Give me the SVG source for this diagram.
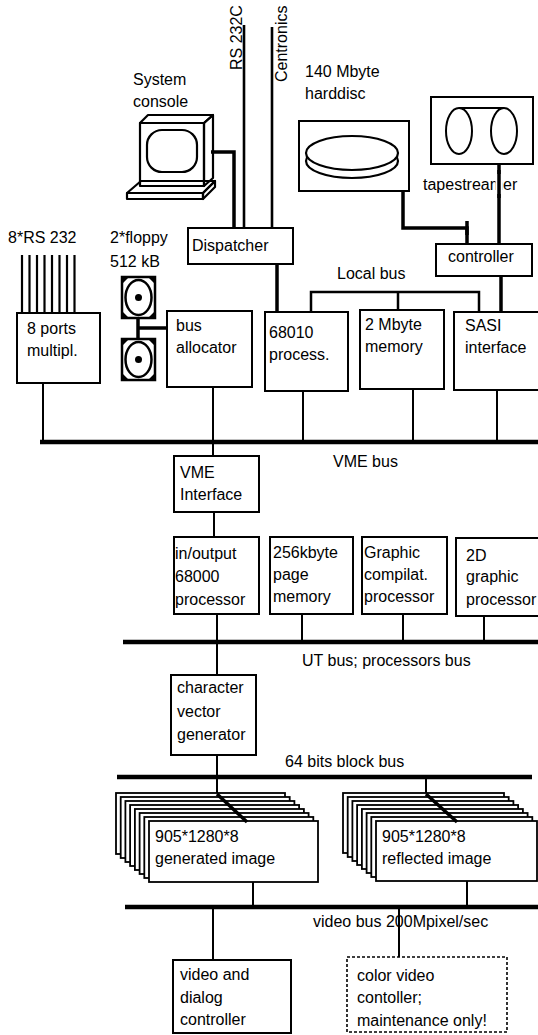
<svg xmlns="http://www.w3.org/2000/svg" width="538" height="1035" viewBox="0 0 538 1035">
  <style>
    text { font-family: "Liberation Sans", Arial, Helvetica, sans-serif; font-size: 16px; fill: #000; }
    .box { fill: #fff; stroke: #000; stroke-width: 2; }
    .dash { fill: #fff; stroke: #000; stroke-width: 1.6; stroke-dasharray: 3 2; }
    .bus { stroke: #000; stroke-width: 4.5; fill: none; }
    .wire { stroke: #000; stroke-width: 2; fill: none; }
    .cable { stroke: #000; stroke-width: 3.5; fill: none; }
    .ink { fill: none; stroke: #000; stroke-width: 2.2; stroke-linejoin: round; }
    .card { fill: #fff; stroke: #000; stroke-width: 1.8; }
  </style>
  <defs>
    <!-- floppy drive glyph: frame, black corners, disk and hub -->
    <g id="floppy">
      <rect x="0" y="0" width="33" height="41" fill="#fff" stroke="#000" stroke-width="2.5"/>
      <path d="M0 0h7L0 7z M33 0h-7L33 7z M0 41h7L0 34z M33 41h-7L33 34z" fill="#000"/>
      <ellipse cx="16.5" cy="20.5" rx="13" ry="17.5" fill="#fff" stroke="#000" stroke-width="2.5"/>
      <circle cx="16.5" cy="20.5" r="3.5" fill="#000"/>
    </g>
  </defs>

  <rect width="538" height="1035" fill="#fff"/>

  <!-- connectors: buses, wires and cables -->
  <g id="connectors">
    <!-- external lines into the dispatcher -->
    <line class="wire" x1="244" y1="25" x2="244" y2="228" style="stroke-width:2.6"/>
    <line class="wire" x1="272" y1="27" x2="272" y2="228" style="stroke-width:2.6"/>
    <polyline class="cable" points="211,152 234,152 234,228"/>
    <!-- harddisc and tape to controller -->
    <polyline class="cable" points="403,187 403,228 467,228 467,244"/>
    <line class="cable" x1="467" y1="221" x2="467" y2="235"/>
    <line class="cable" x1="499" y1="164" x2="499" y2="244"/>
    <line class="cable" x1="501" y1="276" x2="501" y2="312"/>
    <!-- dispatcher to CPU -->
    <line class="cable" x1="277" y1="264" x2="277" y2="312"/>
    <!-- local bus -->
    <polyline class="wire" points="311,312 311,292 479,292 479,312" style="stroke-width:2.5"/>
    <line class="wire" x1="398" y1="292" x2="398" y2="310" style="stroke-width:2.5"/>
    <!-- serial lines into the multiplexer -->
    <g class="wire" style="stroke-width:2.2">
      <line x1="22" y1="255" x2="22" y2="313"/>
      <line x1="29.5" y1="255" x2="29.5" y2="313"/>
      <line x1="37" y1="255" x2="37" y2="313"/>
      <line x1="44.5" y1="255" x2="44.5" y2="313"/>
      <line x1="52" y1="255" x2="52" y2="313"/>
      <line x1="59.5" y1="255" x2="59.5" y2="313"/>
      <line x1="67" y1="255" x2="67" y2="313"/>
      <line x1="74.5" y1="255" x2="74.5" y2="313"/>
    </g>
    <!-- floppies to bus allocator -->
    <line class="cable" x1="138" y1="318" x2="138" y2="339"/>
    <line class="cable" x1="138" y1="328" x2="167" y2="328"/>
    <!-- drops to the VME bus -->
    <line class="wire" x1="43" y1="383" x2="43" y2="442"/>
    <line class="wire" x1="213" y1="387" x2="213" y2="456"/>
    <line class="wire" x1="303" y1="391" x2="303" y2="442"/>
    <line class="wire" x1="413" y1="389" x2="413" y2="442"/>
    <line class="wire" x1="497" y1="390" x2="497" y2="442"/>
    <line class="bus" x1="40" y1="442" x2="538" y2="442"/>
    <!-- VME interface to I/O processor -->
    <line class="wire" x1="214" y1="512" x2="214" y2="537"/>
    <!-- drops to the UT bus -->
    <line class="wire" x1="217" y1="614" x2="217" y2="675"/>
    <line class="wire" x1="302" y1="614" x2="302" y2="642"/>
    <line class="wire" x1="403" y1="614" x2="403" y2="642"/>
    <line class="wire" x1="484" y1="616" x2="484" y2="642"/>
    <line class="bus" x1="123" y1="642" x2="538" y2="642"/>
    <!-- block bus -->
    <line class="wire" x1="217" y1="755" x2="217" y2="795"/>
    <line class="wire" x1="426" y1="777" x2="426" y2="795"/>
    <line class="bus" x1="117" y1="777" x2="532" y2="777"/>
    <!-- video bus -->
    <line class="wire" x1="253" y1="882" x2="253" y2="907"/>
    <line class="wire" x1="467" y1="881" x2="467" y2="907"/>
    <line class="bus" x1="125" y1="907" x2="538" y2="907"/>
    <line class="wire" x1="213" y1="907" x2="213" y2="960"/>
    <line class="wire" x1="399" y1="907" x2="399" y2="957"/>
  </g>

  <!-- external line labels -->
  <text transform="translate(242,70) rotate(-90)">RS 232C</text>
  <text transform="translate(287,82) rotate(-90)">Centronics</text>

  <!-- system console -->
  <g id="console">
    <text x="133" y="85">System</text>
    <text x="133" y="107">console</text>
    <path class="ink" d="M140 123 L148 115 L213 115 L204 123 Z" fill="#fff"/>
    <path class="ink" d="M204 123 L213 115 L213 178 L204 186 Z" fill="#fff"/>
    <rect class="ink" x="140" y="123" width="64" height="63" fill="#fff"/>
    <rect class="ink" x="147" y="130" width="50" height="42" rx="15" ry="15"/>
    <path class="ink" d="M127 193 L141 181 L215 181 L203 193 Z" fill="#fff"/>
    <path class="ink" d="M127 193 L203 193 L203 199 L127 199 Z" fill="#fff"/>
    <path class="ink" d="M203 193 L215 181 L215 187 L203 199 Z" fill="#fff"/>
  </g>

  <g id="dispatcher">
    <rect class="box" x="188" y="228" width="105" height="36"/>
    <text x="192" y="251">Dispatcher</text>
  </g>

  <g id="harddisc">
    <text x="305" y="77">140  Mbyte</text>
    <text x="305" y="99">harddisc</text>
    <rect class="box" x="299" y="121" width="110" height="70"/>
    <ellipse cx="352" cy="161" rx="46" ry="17" fill="#fff" stroke="#000" stroke-width="2.2"/>
    <ellipse cx="352" cy="153" rx="46" ry="17" fill="#fff" stroke="#000" stroke-width="2.2"/>
  </g>

  <g id="tapestreamer">
    <rect class="box" x="431" y="97" width="102" height="67"/>
    <line x1="459" y1="108" x2="504" y2="108" stroke="#000" stroke-width="2"/>
    <ellipse cx="459" cy="131" rx="13" ry="23" fill="#fff" stroke="#000" stroke-width="2"/>
    <ellipse cx="504" cy="131" rx="13" ry="23" fill="#fff" stroke="#000" stroke-width="2"/>
    <text x="423" y="190">tapestreamer</text>
    <!-- the tape cable runs across its own label -->
    <line x1="499" y1="174" x2="499" y2="194" stroke="#fff" stroke-width="7"/>
    <line x1="499" y1="170" x2="499" y2="198" stroke="#000" stroke-width="3.5"/>
  </g>

  <g id="controller">
    <rect class="box" x="436" y="244" width="96" height="32"/>
    <text x="448" y="262">controller</text>
  </g>

  <text x="337" y="279">Local bus</text>

  <g id="serial-ports">
    <text x="8" y="243">8*RS 232</text>
  </g>

  <g id="ports-multiplexer">
    <rect class="box" x="17" y="313" width="83" height="70"/>
    <text x="27" y="334">8 ports</text>
    <text x="27" y="356">multipl.</text>
  </g>

  <g id="floppies">
    <text x="110" y="243">2*floppy</text>
    <text x="110" y="267">512 kB</text>
    <use href="#floppy" x="122" y="277"/>
    <use href="#floppy" x="122" y="339"/>
  </g>

  <g id="bus-allocator">
    <rect class="box" x="167" y="311" width="85" height="76"/>
    <text x="176" y="331">bus</text>
    <text x="176" y="353">allocator</text>
  </g>

  <g id="cpu-68010">
    <rect class="box" x="265" y="312" width="83" height="79"/>
    <text x="269" y="338">68010</text>
    <text x="269" y="360">process.</text>
  </g>

  <g id="memory">
    <rect class="box" x="360" y="310" width="84" height="79"/>
    <text x="365" y="330">2 Mbyte</text>
    <text x="365" y="352">memory</text>
  </g>

  <g id="sasi">
    <rect class="box" x="454" y="312" width="90" height="78"/>
    <text x="465" y="331">SASI</text>
    <text x="465" y="353">interface</text>
  </g>

  <text x="333" y="467">VME bus</text>

  <g id="vme-interface">
    <rect class="box" x="174" y="456" width="85" height="56"/>
    <text x="180" y="478">VME</text>
    <text x="180" y="500">Interface</text>
  </g>

  <g id="io-processor">
    <rect class="box" x="174" y="537" width="85" height="77"/>
    <text x="175" y="559">in/output</text>
    <text x="175" y="582">68000</text>
    <text x="175" y="605">processor</text>
  </g>

  <g id="page-memory">
    <rect class="box" x="270" y="537" width="83" height="77"/>
    <text x="273" y="558">256kbyte</text>
    <text x="273" y="580">page</text>
    <text x="273" y="602">memory</text>
  </g>

  <g id="graphic-compiler">
    <rect class="box" x="362" y="537" width="85" height="77"/>
    <text x="364" y="558">Graphic</text>
    <text x="364" y="580">compilat.</text>
    <text x="364" y="602">processor</text>
  </g>

  <g id="graphic-2d">
    <rect class="box" x="456" y="538" width="88" height="78"/>
    <text x="466" y="561">2D</text>
    <text x="466" y="582">graphic</text>
    <text x="466" y="605">processor</text>
  </g>

  <text x="302" y="666">UT bus; processors bus</text>

  <g id="char-vector-generator">
    <rect class="box" x="171" y="675" width="85" height="80"/>
    <text x="177" y="693">character</text>
    <text x="177" y="717">vector</text>
    <text x="177" y="740">generator</text>
  </g>

  <text x="285" y="767">64 bits block bus</text>

  <!-- generated image memory planes -->
  <g id="generated-image">
    <rect class="card" x="116" y="793" width="169" height="61"/>
    <rect class="card" x="120.7" y="797" width="169" height="61"/>
    <rect class="card" x="125.4" y="801" width="169" height="61"/>
    <rect class="card" x="130.1" y="805" width="169" height="61"/>
    <rect class="card" x="134.9" y="809" width="169" height="61"/>
    <rect class="card" x="139.6" y="813" width="169" height="61"/>
    <rect class="card" x="144.3" y="817" width="169" height="61"/>
    <rect class="card" x="149" y="821" width="169" height="61"/>
    <line x1="217" y1="794" x2="247" y2="822" stroke="#000" stroke-width="3.5"/>
    <text x="155" y="842">905*1280*8</text>
    <text x="155" y="864">generated image</text>
  </g>

  <!-- reflected image memory planes -->
  <g id="reflected-image">
    <rect class="card" x="343" y="793" width="161" height="60"/>
    <rect class="card" x="347.7" y="797" width="161" height="60"/>
    <rect class="card" x="352.4" y="801" width="161" height="60"/>
    <rect class="card" x="357.1" y="805" width="161" height="60"/>
    <rect class="card" x="361.9" y="809" width="161" height="60"/>
    <rect class="card" x="366.6" y="813" width="161" height="60"/>
    <rect class="card" x="371.3" y="817" width="161" height="60"/>
    <rect class="card" x="376" y="821" width="161" height="60"/>
    <line x1="426" y1="794" x2="457" y2="822" stroke="#000" stroke-width="3.5"/>
    <text x="382" y="842">905*1280*8</text>
    <text x="382" y="864">reflected image</text>
  </g>

  <text x="313" y="927">video bus 200Mpixel/sec</text>

  <g id="video-dialog-controller">
    <rect class="box" x="173" y="960" width="118" height="73"/>
    <text x="180" y="980">video and</text>
    <text x="180" y="1003">dialog</text>
    <text x="180" y="1025">controller</text>
  </g>

  <g id="color-video-controller">
    <rect class="dash" x="347" y="957" width="160" height="75"/>
    <text x="357" y="981">color video</text>
    <text x="357" y="1003">contoller;</text>
    <text x="357" y="1026">maintenance only!</text>
  </g>
</svg>
